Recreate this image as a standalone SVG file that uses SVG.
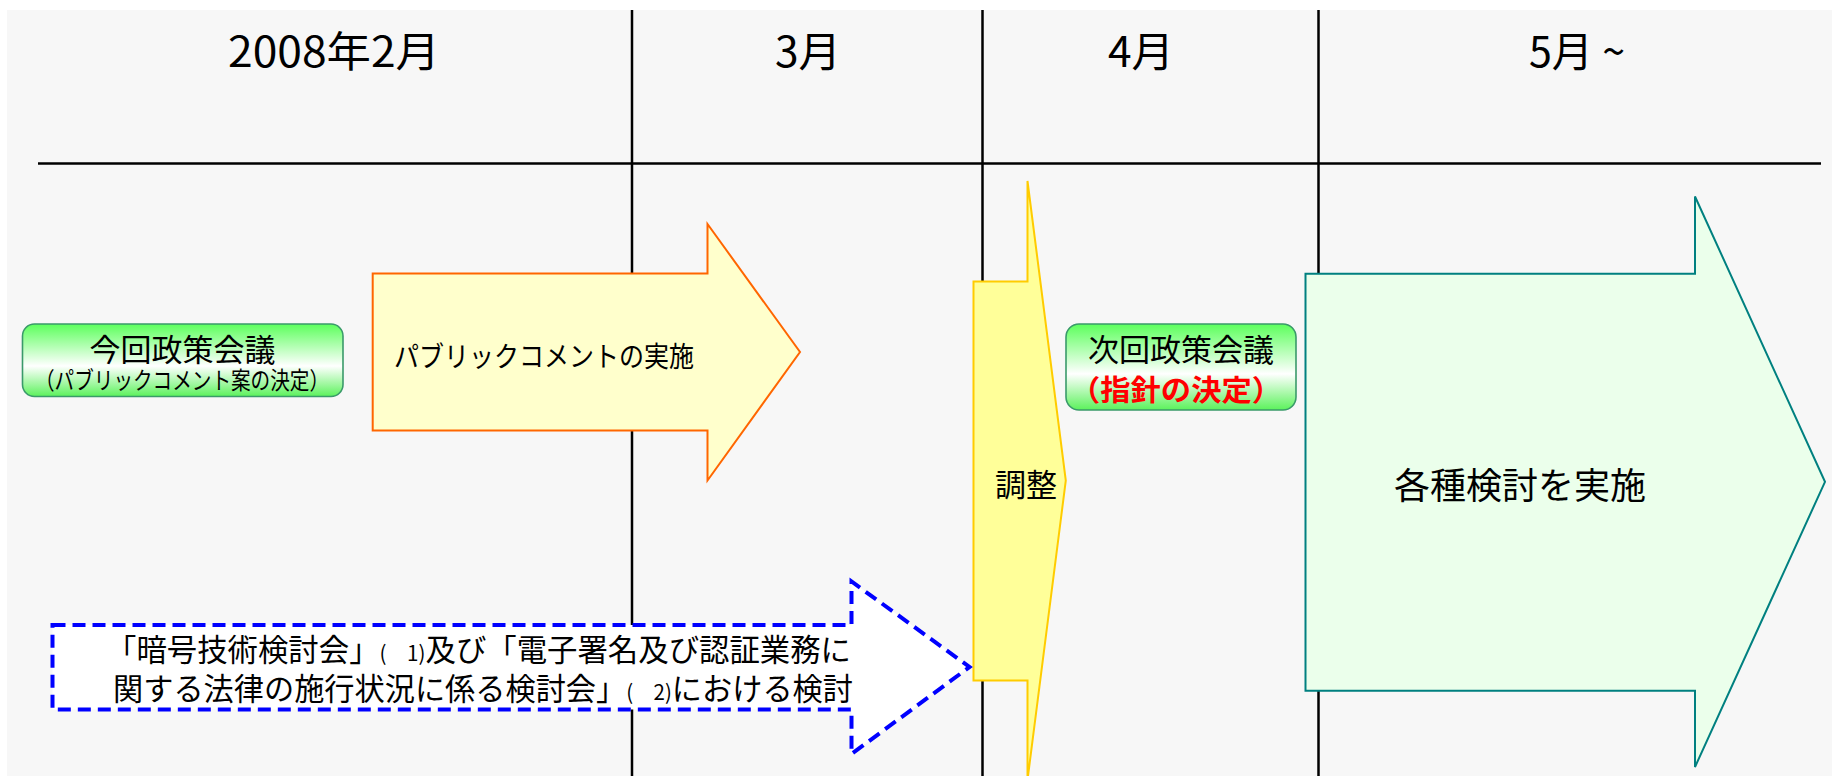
<svg xmlns="http://www.w3.org/2000/svg" width="1832" height="776" viewBox="0 0 1832 776">
<style>
  text { font-family: "Noto Sans CJK JP", "Noto Sans", sans-serif; fill: #000; }
  .grid { stroke: #000; stroke-width: 2.5; fill: none; }
  .month { font-size: 42px; }
  .meet { fill: url(#greenGrad); stroke: #3a9a6a; stroke-width: 1.6; }
  .mtitle { font-size: 31px; }
  .note { font-size: 21px; }
</style>
<defs>
  <linearGradient id="greenGrad" x1="0" y1="0" x2="0" y2="1">
    <stop offset="0" stop-color="#5cff5c"/>
    <stop offset="0.58" stop-color="#ffffff"/>
    <stop offset="1" stop-color="#5cf25c"/>
  </linearGradient>
</defs>
<rect x="7" y="10" width="1825" height="766" fill="#f7f7f7"/>
<g id="timeline">
  <line class="grid" x1="38" y1="163.6" x2="1821" y2="163.6"/>
  <line class="grid" x1="632" y1="10" x2="632" y2="776"/>
  <line class="grid" x1="982.5" y1="10" x2="982.5" y2="776"/>
  <line class="grid" x1="1318.5" y1="10" x2="1318.5" y2="776"/>
  <text class="month" x="228" y="67" textLength="212" lengthAdjust="spacingAndGlyphs">2008年2月</text>
  <text class="month" x="775" y="67" textLength="66" lengthAdjust="spacingAndGlyphs">3月</text>
  <text class="month" x="1108" y="67" textLength="66" lengthAdjust="spacingAndGlyphs">4月</text>
  <text class="month" x="1529" y="67" textLength="96" lengthAdjust="spacingAndGlyphs">5月 ~</text>
</g>
<g id="public-comment">
  <path d="M372.7,273.4 H707.5 V224 L800,352 L707.5,480.5 V430.5 H372.7 Z" fill="#ffffcc" stroke="#ff6600" stroke-width="2"/>
  <text x="394" y="367" font-size="28" textLength="300" lengthAdjust="spacingAndGlyphs">パブリックコメントの実施</text>
</g>
<g id="adjust">
  <path d="M973.5,281.6 H1027.5 V181 L1065.8,480.5 L1027.5,780 V680.5 H973.5 Z" fill="#ffff99" stroke="#ffcc00" stroke-width="2"/>
  <text x="995" y="496" font-size="31">調整</text>
</g>
<g id="various-studies">
  <path d="M1305.5,273.7 H1695 V196.5 L1825,481.8 L1695,767 V690.7 H1305.5 Z" fill="#ebffeb" stroke="#008080" stroke-width="2"/>
  <text x="1394" y="499" font-size="36">各種検討を実施</text>
</g>
<g id="study-groups">
  <path d="M52.5,625 H851.5 V581.5 L969.5,667 L851.5,754 V709.5 H52.5 Z" fill="#ffffff" stroke="#0000ff" stroke-width="4" stroke-dasharray="13 7"/>
  <text font-size="31"><tspan x="106" y="661" textLength="745" lengthAdjust="spacingAndGlyphs">「暗号技術検討会」<tspan class="note">(　1)</tspan>及び「電子署名及び認証業務に</tspan><tspan x="113" y="700" textLength="740" lengthAdjust="spacingAndGlyphs">関する法律の施行状況に係る検討会」<tspan class="note">(　2)</tspan>における検討</tspan></text>
</g>
<g id="current-meeting">
  <rect class="meet" x="22.5" y="324" width="320.5" height="72.5" rx="12"/>
  <text><tspan class="mtitle" x="182.5" y="361" text-anchor="middle">今回政策会議</tspan><tspan x="35" y="389" font-size="24" textLength="294" lengthAdjust="spacingAndGlyphs">（パブリックコメント案の決定）</tspan></text>
</g>
<g id="next-meeting">
  <rect class="meet" x="1066" y="324" width="230" height="86" rx="13"/>
  <text><tspan class="mtitle" x="1181" y="361" text-anchor="middle">次回政策会議</tspan><tspan x="1070" y="401" font-size="29" font-weight="bold" style="fill:#ff0000" textLength="212" lengthAdjust="spacingAndGlyphs">（指針の決定）</tspan></text>
</g>
</svg>
